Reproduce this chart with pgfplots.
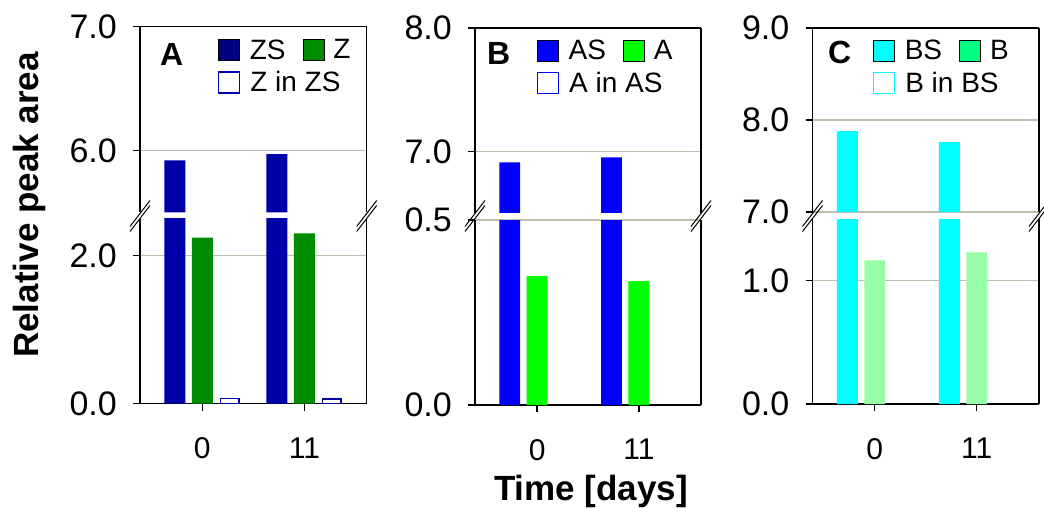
\documentclass[border=0pt]{standalone}
\usepackage{pgfplots}
\pgfplotsset{compat=1.18}
\usepackage{pgfplotstable}
\usepackage{fontspec}
\setmainfont{Liberation Sans}

\definecolor{zsC}{RGB}{0,0,168}
\definecolor{zsL}{RGB}{0,0,128}
\definecolor{zC}{RGB}{0,140,0}
\definecolor{asC}{RGB}{0,0,255}
\definecolor{aC}{RGB}{0,255,0}
\definecolor{bsC}{RGB}{0,255,255}
\definecolor{bC}{RGB}{150,255,165}
\definecolor{bL}{RGB}{0,255,128}
\definecolor{gridC}{RGB}{190,190,175}

\pgfplotstableread{
x ZS Z ZinZS
0 5.92 2.24 0.07
1 5.97 2.30 0.06
}\tabA
\pgfplotstableread{
x AS A
0 6.91 0.349
1 6.95 0.335
}\tabB
\pgfplotstableread{
x BS B
0 7.88 1.165
1 7.76 1.23
}\tabC

\tikzset{letter/.style={anchor=base west, font=\bfseries\fontsize{32}{32}\selectfont, inner sep=0pt}}

\pgfplotsset{
  panel/.style={
    scale only axis, anchor=south west,
    xmin=-0.61, xmax=1.61,
    separate axis lines,
    axis line style={-, line width=1.4pt, black},
    ytick pos=left, tick align=outside, major tick length=7pt,
    every tick/.style={black, line width=1.4pt},
    ymajorgrids, grid style={gridC, line width=1.3pt},
    yticklabel style={font=\fontsize{34}{34}\selectfont, inner sep=0pt, xshift=-16pt,
      /pgf/number format/.cd, fixed, fixed zerofill, precision=1, assume math mode=true},
    clip=true,
  },
  upper/.style={panel, axis x line*=top, axis y line*=box, xtick=\empty, ytick pos=left,
    legend columns=2,
    legend cell align=left,
    legend style={draw=none, fill=none, inner sep=0pt, outer sep=0pt, row sep=10.3pt,
      font=\fontsize{28}{28}\selectfont,
      nodes={inner sep=0pt},
      /tikz/every odd column/.append style={column sep=9.5pt},
      /tikz/every even column/.append style={column sep=17pt},
      anchor=north west},
    legend image code/.code={\draw[##1] (0pt,-10.5pt) rectangle (21pt,10.5pt);},
  },
  lower/.style={panel, axis x line*=bottom, axis y line*=box, ytick pos=left,
    xtick={0,1}, xticklabels={0,11}, xtick pos=bottom,
    xticklabel style={font=\fontsize{30}{30}\selectfont, inner sep=0pt, yshift=-27pt}},
}

\begin{document}
\begin{tikzpicture}[x=1pt, y=1pt]
\path[use as bounding box] (0,0) rectangle (1044,507);

% ---------- Panel A ----------
\begin{axis}[upper, at={(140pt,294.5pt)}, width=226.7pt, height=186pt,
  ymin=5.5, ymax=7.0, ytick={6,7}, legend style={at={(0.343,0.931)}}]
  \addplot[ybar, bar width=0.205, bar shift=-0.269, fill=zsC, draw=none, forget plot] table[x=x, y=ZS] {\tabA};
  \addlegendimage{fill=zsL, draw=none}
  \addlegendentry{ZS}
  \addlegendimage{fill=zC, draw=none}
  \addlegendentry{Z}
  \addlegendimage{fill=white, draw=zsC, line width=1.5pt}
  \addlegendentry{\makebox[0pt][l]{Z in ZS}}
  \node[letter] at (rel axis cs:0.088,0.793) {A};
\end{axis}
\begin{axis}[lower, at={(140pt,103.5pt)}, width=226.7pt, height=185pt,
  ymin=0, ymax=2.5, ytick={0,2}]
  \addplot[ybar, bar width=0.205, bar shift=-0.269, fill=zsC, draw=none] table[x=x, y=ZS] {\tabA};
  \addplot[ybar, bar width=0.205, bar shift=0, fill=zC, draw=none] table[x=x, y=Z] {\tabA};
  \addplot[ybar, bar width=0.181, bar shift=0.269, fill=white, draw=zsC, line width=1.5pt] table[x=x, y=ZinZS] {\tabA};
\end{axis}

% ---------- Panel B ----------
\begin{axis}[upper, at={(475pt,294pt)}, width=226pt, height=185pt,
  ymin=6.5, ymax=8.0, ytick={7,8}, legend style={at={(0.273,0.935)}}]
  \addplot[ybar, bar width=0.205, bar shift=-0.269, fill=asC, draw=none, forget plot] table[x=x, y=AS] {\tabB};
  \addlegendimage{fill=asC, draw=none}
  \addlegendentry{AS}
  \addlegendimage{fill=aC, draw=none}
  \addlegendentry{A}
  \addlegendimage{fill=white, draw=asC, line width=1.5pt}
  \addlegendentry{\makebox[0pt][l]{A in AS}}
  \node[letter] at (rel axis cs:0.053,0.805) {B};
\end{axis}
\begin{axis}[lower, at={(475pt,102pt)}, width=226pt, height=185pt,
  ymin=0, ymax=0.5, ytick={0,0.5}]
  \addplot[ybar, bar width=0.205, bar shift=-0.269, fill=asC, draw=none] table[x=x, y=AS] {\tabB};
  \addplot[ybar, bar width=0.205, bar shift=0, fill=aC, draw=none] table[x=x, y=A] {\tabB};
\end{axis}

% ---------- Panel C ----------
\begin{axis}[upper, at={(812.5pt,295pt)}, width=226.5pt, height=184pt,
  ymin=7.0, ymax=9.0, ytick={7,8,9}, legend style={at={(0.266,0.935)}}]
  \addplot[ybar, bar width=0.205, bar shift=-0.269, fill=bsC, draw=none, forget plot] table[x=x, y=BS] {\tabC};
  \addlegendimage{fill=bsC, draw=none}
  \addlegendentry{BS}
  \addlegendimage{fill=bL, draw=none}
  \addlegendentry{B}
  \addlegendimage{fill=white, draw=bsC, line width=1.5pt}
  \addlegendentry{\makebox[0pt][l]{B in BS}}
  \node[letter] at (rel axis cs:0.068,0.808) {C};
\end{axis}
\begin{axis}[lower, at={(812.5pt,103pt)}, width=226.5pt, height=185pt,
  ymin=0, ymax=1.5, ytick={0,1}]
  \addplot[ybar, bar width=0.205, bar shift=-0.269, fill=bsC, draw=none] table[x=x, y=BS] {\tabC};
  \addplot[ybar, bar width=0.205, bar shift=0, fill=bC, draw=none] table[x=x, y=B] {\tabC};
\end{axis}

% ---------- break marks ----------
\foreach \xx in {140,366.7,475,701,812.5,1039} {
  \draw[line width=1pt] (\xx-10,291-15.5) -- (\xx+10,291+10.5);
  \draw[line width=1pt] (\xx-10,291-10.5) -- (\xx+10,291+15.5);
}

% ---------- axis titles ----------
\node[rotate=90, anchor=base, inner sep=0pt, font=\bfseries\fontsize{35}{35}\selectfont] at (38.3,302) {Relative peak area};
\node[anchor=base, inner sep=0pt, font=\bfseries\fontsize{35}{35}\selectfont] at (591,6.5) {Time [days]};
\end{tikzpicture}
\end{document}
